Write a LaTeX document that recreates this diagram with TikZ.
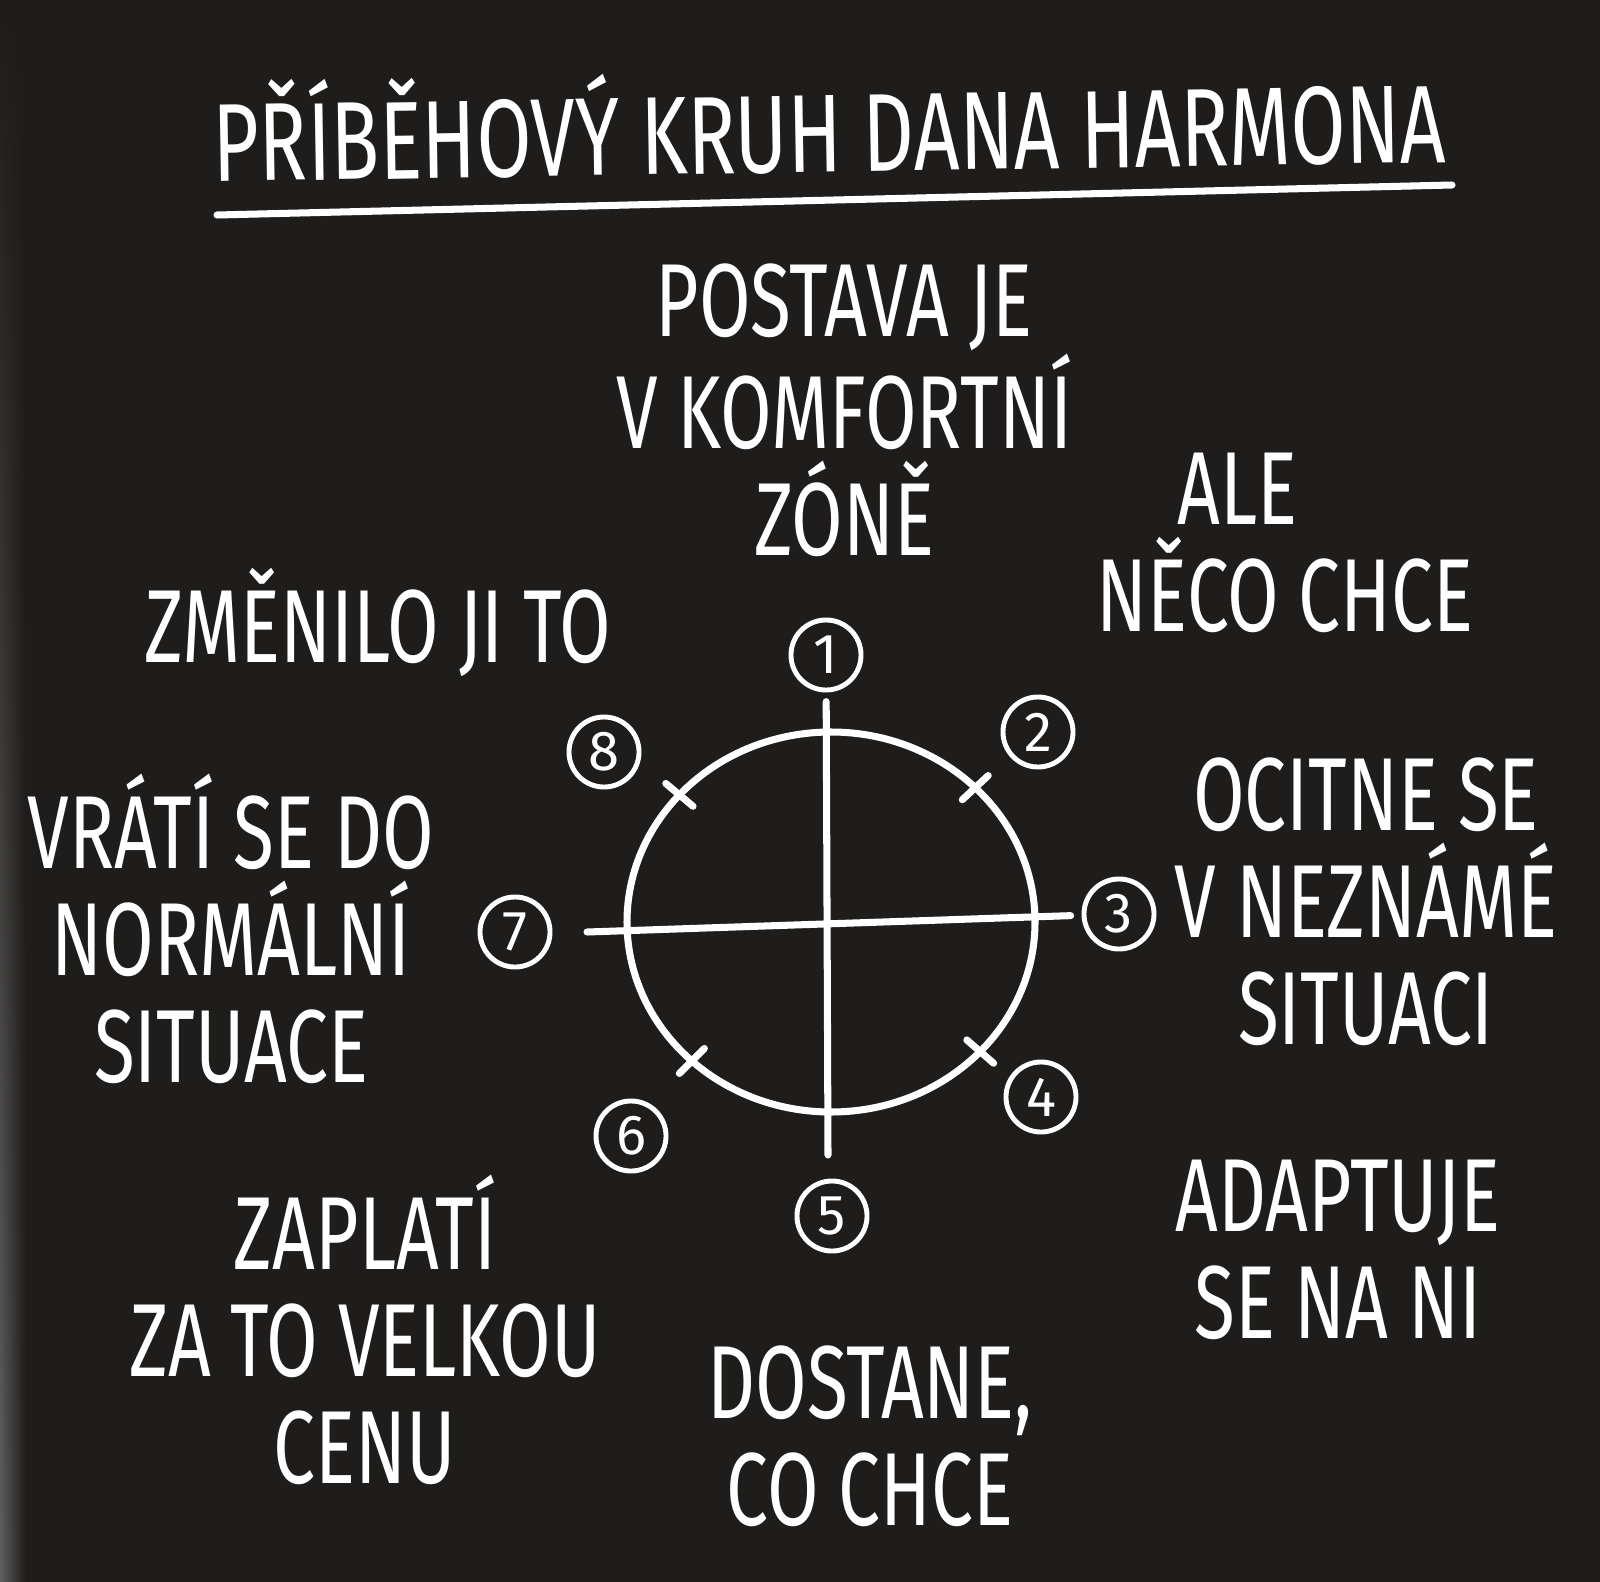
\documentclass[tikz,border=0pt]{standalone}
\usepackage{fontspec}
\usetikzlibrary{fadings}
\newfontfamily\handfont[FakeStretch=0.72]{Fira Sans}
\newfontfamily\digitfont{Fira Sans}
\definecolor{board}{HTML}{1F1D1B}
\tikzset{
  chalk/.style={draw=white,line width=2pt,line cap=round},
  lbl/.style={text=white,align=center,inner sep=0pt,font=\handfont\fontsize{29.5}{30.4}\selectfont},
  num/.style={circle,draw=white,line width=1.4pt,minimum size=0.70cm,inner sep=0pt,text=white,font=\digitfont\fontsize{16}{16}\selectfont}
}
\begin{document}
\begin{tikzpicture}[x=0.01cm,y=-0.01cm,declare function={cx=831; cy=922; rx=204; ry=190;}]
  \useasboundingbox (0,0) rectangle (1600,1582);
  \fill[board] (0,0) rectangle (1600,1582);
  \shade[left color=gray!75!black,right color=board,path fading=north] (0,0) rectangle (26,1582);
  % title
  \node[lbl,anchor=base,rotate=0.9,font=\handfont\fontsize{31.5}{36}\selectfont] (title) at (830,172) {PŘÍBĚHOVÝ KRUH DANA HARMONA};
  \draw[chalk] (217,215) -- (1452,185);
  % ellipse and axes
  \draw[chalk] (cx,cy) ellipse ({rx} and {ry});
  \foreach \a in {-45,43,133,222}{
    \draw[chalk] ({cx+0.91*rx*cos(\a)},{cy+0.91*ry*sin(\a)}) -- ({cx+1.09*rx*cos(\a)},{cy+1.09*ry*sin(\a)});
  }
  % numbers
  \foreach \n/\x/\y in {1/826/655,2/1038/732,3/1119/914,4/1041/1097,5/832/1216,6/631/1136,7/515/932,8/604/752}{
    \node[num] (n\n) at (\x,\y) {\n};
  }
  \coordinate (axisS) at (828,1155);
  \coordinate (axisW) at (587,932);
  \draw[chalk,shorten <=2.6pt] (n1) -- (axisS);
  \draw[chalk,shorten >=3.1pt] (axisW) -- (n3);
  % texts
  \node[lbl] (t1) at (844,410) {POSTAVA JE\\V KOMFORTNÍ\\ZÓNĚ};
  \node[lbl] (t2) at (1285,543) {ALE\hspace*{27pt}\\NĚCO CHCE};
  \node[lbl] (t3) at (1366,902) {OCITNE SE\\V NEZNÁMÉ\\SITUACI};
  \node[lbl] (t4) at (1338,1250) {ADAPTUJE\\SE NA NI};
  \node[lbl] (t5) at (870,1436) {DOSTANE,\\CO CHCE};
  \node[lbl] (t6) at (365,1330) {ZAPLATÍ\\ZA TO VELKOU\\CENU};
  \node[lbl] (t7) at (231,929) {VRÁTÍ SE DO\\NORMÁLNÍ\\SITUACE};
  \node[lbl] (t8) at (378,622) {ZMĚNILO JI TO};
\end{tikzpicture}
\end{document}
